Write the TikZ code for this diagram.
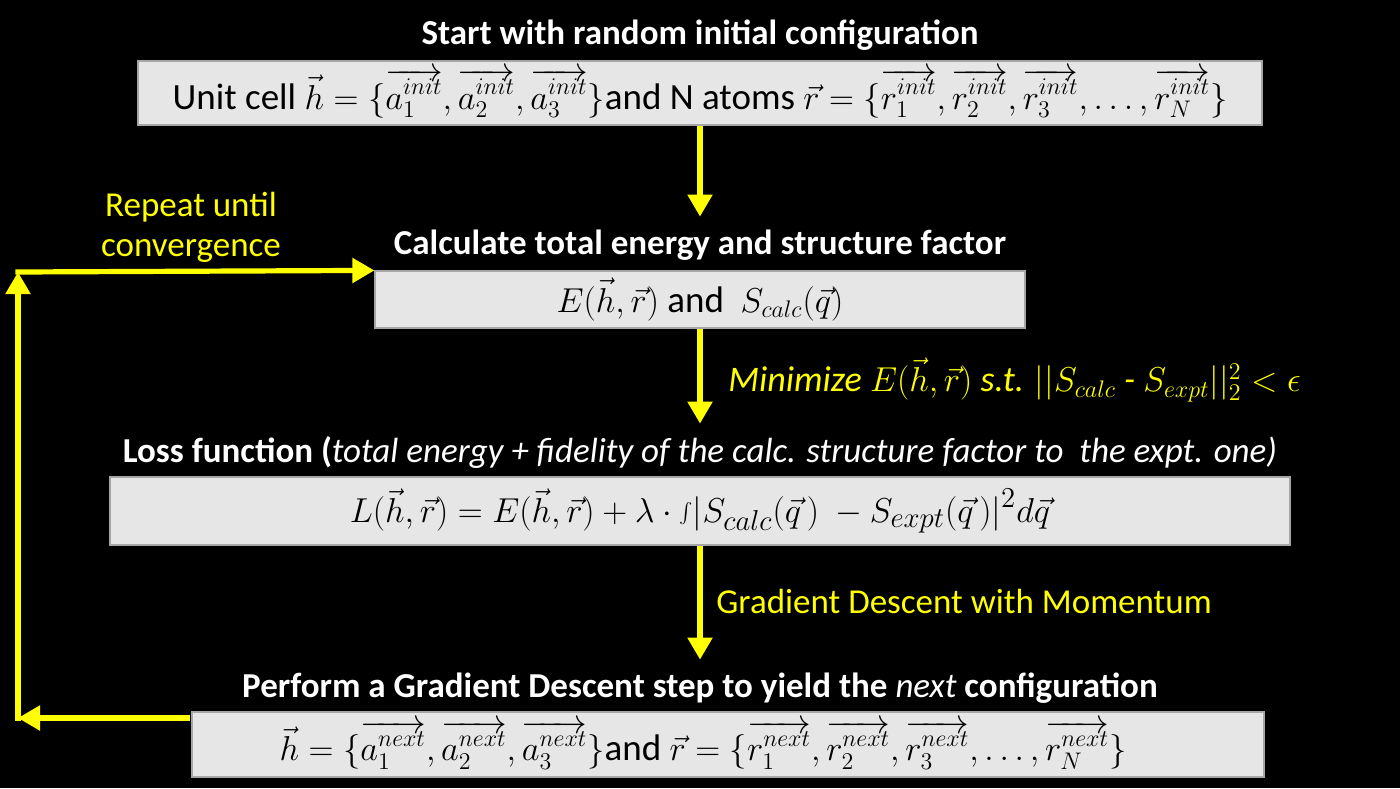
\documentclass[tikz,border=0pt]{standalone}
\usepackage{fontspec}
\setmainfont{Carlito}
\usetikzlibrary{arrows.meta}
\definecolor{boxfill}{HTML}{E6E6E6}
\definecolor{boxdraw}{HTML}{A6A6A6}
\definecolor{yel}{HTML}{FFFF00}
\tikzset{
  box/.style={draw=boxdraw, line width=0.6pt, fill=boxfill, text=black, inner sep=0pt, font=\fontsize{18.5}{21}\selectfont},
  boxtext/.style={text=black, inner sep=0pt, font=\fontsize{18.5}{21}\selectfont},
  title/.style={text=white, font=\bfseries\fontsize{17.5}{20}\selectfont, minimum height=28pt, inner sep=0pt},
  ylab/.style={text=yel, font=\fontsize{17.5}{20}\selectfont, inner sep=0pt},
  arr/.style={draw=yel, line width=2.6pt, -{Triangle[width=12pt,length=11pt]}},
}
\begin{document}
\begin{tikzpicture}[x=0.5pt,y=-0.5pt]
\fill[black] (0,0) rectangle (1400,788);
\useasboundingbox (0,0) rectangle (1400,788);

\node[title] (t1) at (700,35) {Start with random initial configuration};
\node[box, minimum width=562pt, minimum height=32pt] (b1) at (700,93)
 {Unit cell $\vec{h}=\{\overrightarrow{a_1^{init}},\overrightarrow{a_2^{init}},\overrightarrow{a_3^{init}}\}$and N atoms $\vec{r}=\{\overrightarrow{r_1^{init}},\overrightarrow{r_2^{init}},\overrightarrow{r_3^{init}},\dots,\overrightarrow{r_N^{init}}\}$};

\node[title] (t2) at (700,245) {Calculate total energy and structure factor};
\node[box, minimum width=325pt, minimum height=28.5pt] (b2) at (700,299.5)
 {$E(\vec{h},\vec{r})\ \mathrm{and}\ \ S_{calc}(\vec{q})$};

\node[title] (t3) at (700,452) {Loss function (\textmd{\itshape total energy + fidelity of the calc. structure factor to\ \ the expt. one)}};
\node[box, minimum width=590pt, minimum height=34pt, font=\fontsize{19}{21}\selectfont] (b3) at (700,511)
 {$L(\vec{h},\vec{r})=E(\vec{h},\vec{r})+\lambda\cdot{\textstyle\int}\Bigl|S_{calc}(\vec{q}\,)\ -S_{expt}(\vec{q}\,)\Bigr|^2d\vec{q}$};

\node[title] (t4) at (700,688) {Perform a Gradient Descent step to yield the \textmd{\itshape next} configuration};
\node[box, minimum width=536pt, minimum height=32.5pt] (b4) at (728,744.5) {};
\node[boxtext] (b4t) at (703,745)
 {$\vec{h}=\{\overrightarrow{a_1^{next}},\overrightarrow{a_2^{next}},\overrightarrow{a_3^{next}}\}$and $\vec{r}=\{\overrightarrow{r_1^{next}},\overrightarrow{r_2^{next}},\overrightarrow{r_3^{next}},\dots,\overrightarrow{r_N^{next}}\}$};

\node[ylab, anchor=west, font=\fontsize{18}{20}\selectfont] (l1) at (728,380) {\itshape Minimize $E(\vec{h},\vec{r})$ s.t. $||S_{calc}$ - $S_{expt}||_2^2<\epsilon$};
\node[ylab, anchor=west] (l2) at (716,601) {Gradient Descent with Momentum};
\node[ylab, align=center] (l3) at (191,227) {Repeat until\\convergence};

\draw[arr] (b1.south) -- (t2.north);
\draw[arr] (b2.south) -- (t3.north);
\draw[arr] (b3.south) -- (t4.north);

\coordinate (c1) at (18,718);
\coordinate (c2) at (18,272);
\coordinate (s4) at (190,718);
\draw[arr] (s4) -- (c1);
\draw[arr, shorten <=-1.3pt] (c1) -- (c2);
\draw[arr, shorten <=-1.3pt] (c2) -- (b2.north west);
\end{tikzpicture}
\end{document}
